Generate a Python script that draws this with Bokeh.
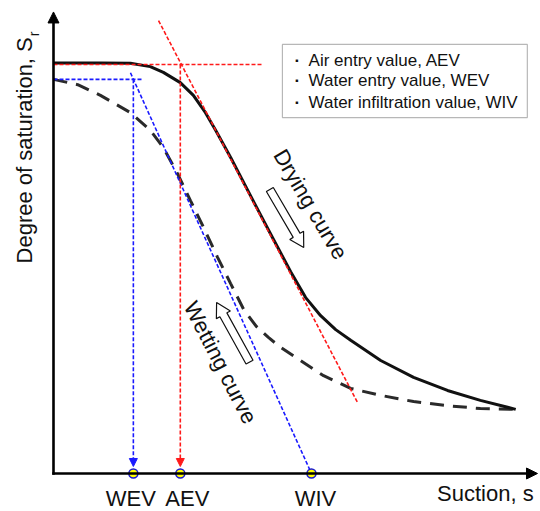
import numpy as np
from bokeh.plotting import figure
from bokeh.models import Range1d, Arrow, NormalHead, Label, BoxAnnotation
from bokeh.embed import file_html
from bokeh.resources import INLINE

# Suction s (as % of axis length) and degree of saturation Sr (%)
drying_s = [0.0, 9.7, 15.9, 20.0, 22.7, 26.2, 28.9, 31.4, 33.5, 36.6, 40.7,
            44.8, 49.0, 52.1, 55.2, 58.3, 61.4, 67.6, 74.4, 81.4, 88.2, 95.5]
drying_sr = [99.9, 99.9, 99.8, 99.0, 97.6, 95.1, 92.0, 87.8, 83.5, 76.9, 67.6,
             58.4, 49.1, 42.8, 38.4, 35.0, 32.4, 27.5, 23.4, 20.2, 17.8, 15.6]

wetting_s = [0.0, 5.0, 9.7, 15.9, 20.0, 22.7, 25.6, 28.3, 31.0, 33.9, 36.6,
             39.3, 41.9, 44.4, 46.9, 51.0, 55.8, 61.4, 67.6, 74.4, 81.4, 88.2,
             95.5]
wetting_sr = [95.9, 94.6, 92.0, 87.8, 83.5, 79.3, 73.0, 66.4, 59.9, 52.6, 46.2,
              39.9, 35.8, 33.1, 30.7, 27.5, 23.8, 20.7, 19.0, 17.5, 16.5, 15.8,
              15.6]

# characteristic suction values
key_names = ["WEV", "AEV", "WIV"]
key_s = [16.5, 26.2, 53.3]
WEV, AEV, WIV = key_s

SR_DRY_MAX = 99.5   # saturated plateau of the drying curve
SR_WET_MAX = 95.9   # maximum saturation on the wetting curve

# tangent construction lines
dry_tangent_s = [21.7, 62.8]
dry_tangent_sr = [110.2, 17.3]
wet_tangent_s = [15.9, WIV]
wet_tangent_sr = [97.5, 0.0]
dry_plateau_s = [0.0, 43.2]
wet_plateau_s = [0.0, 18.6]

legend_items = ["Air entry value, AEV", "Water entry value, WEV",
                "Water infiltration value, WIV"]

W, H = 540, 511
X_MIN, X_MAX = -10.95, 100.62
Y_MIN, Y_MAX = -9.25, 115.09
KX = W / (X_MAX - X_MIN)
KY = H / (Y_MAX - Y_MIN)

FONT = "Liberation Sans"
RED = "#ff1a1a"
BLUE = "#1a1aff"
INK = "#111111"

p = figure(width=W, height=H, output_backend="svg", toolbar_location=None,
           x_range=Range1d(X_MIN, X_MAX), y_range=Range1d(Y_MIN, Y_MAX),
           min_border=0, outline_line_color=None)
p.axis.visible = False
p.grid.visible = False
p.background_fill_color = "white"
p.border_fill_color = "white"

# soil-water characteristic curves
p.line(wetting_s, wetting_sr, line_color="#2a2a2a", line_width=3,
       line_dash="14 9")
p.line(drying_s, drying_sr, line_color=INK, line_width=3, line_join="round")

# construction lines
p.line(dry_plateau_s, [SR_DRY_MAX, SR_DRY_MAX], line_color=RED,
       line_width=1.6, line_dash="4 2")
p.line(dry_tangent_s, dry_tangent_sr, line_color=RED, line_width=1.6,
       line_dash="4 2")
p.line(wet_plateau_s, [SR_WET_MAX, SR_WET_MAX], line_color=BLUE,
       line_width=1.6, line_dash="4 2")
p.line(wet_tangent_s, wet_tangent_sr, line_color=BLUE, line_width=1.6,
       line_dash="4 2")

# drop lines to the suction axis
for xv, ytop, col in [(WEV, SR_WET_MAX, BLUE), (AEV, SR_DRY_MAX, RED)]:
    p.add_layout(Arrow(end=NormalHead(size=8, fill_color=col, line_color=col,
                                      line_width=1),
                       x_start=xv, y_start=ytop, x_end=xv, y_end=1.7,
                       line_color=col, line_width=1.6, line_dash="4 2"))

# axes with arrow heads
p.add_layout(Arrow(end=NormalHead(size=11, fill_color="black",
                                  line_color="black", line_width=1),
                   x_start=-0.25, y_start=0, x_end=100.0, y_end=0,
                   line_color="black", line_width=2.6))
p.add_layout(Arrow(end=NormalHead(size=11, fill_color="black",
                                  line_color="black", line_width=1),
                   x_start=0, y_start=-0.3, x_end=0, y_end=112.3,
                   line_color="black", line_width=2.6))

p.scatter(key_s, [0, 0, 0], size=9, fill_color="#ffff00",
          line_color="#1a1ad0", line_width=1.5)

# labels under the suction axis
label_shift = [-2.5, 7, 4]
for name, xv, dx in zip(key_names, key_s, label_shift):
    p.add_layout(Label(x=xv, y=-6.1, x_offset=dx, text=name,
                       text_align="center", text_baseline="middle",
                       text_font=FONT, text_font_size="22px",
                       text_color=INK))
p.add_layout(Label(x=99.2, y=-4.87, text="Suction, s", text_align="right",
                   text_baseline="middle", text_font=FONT,
                   text_font_size="22px", text_color=INK))

# vertical axis title with subscript
p.add_layout(Label(x=-5.99, y=51.1, text="Degree of saturation, S",
                   angle=90, angle_units="deg", text_align="left",
                   text_baseline="middle", text_font=FONT,
                   text_font_size="22px", text_color=INK))
p.add_layout(Label(x=-4.03, y=106.4, text="r", angle=90, angle_units="deg",
                   text_align="left", text_baseline="middle",
                   text_font=FONT, text_font_size="14px", text_color=INK))

# curve names
p.add_layout(Label(x=53.1, y=65.5, text="Drying curve", angle=-59.5,
                   angle_units="deg", text_align="center",
                   text_baseline="middle", text_font=FONT,
                   text_font_size="22px", text_color=INK))
p.add_layout(Label(x=34.5, y=27.0, text="Wetting curve", angle=-63,
                   angle_units="deg", text_align="center",
                   text_baseline="middle", text_font=FONT,
                   text_font_size="22px", text_color=INK))


def block_arrow(tail, tip, shaft=8.0, head_w=16.0, head_l=14.0):
    """Hollow block-arrow outline, built in screen pixels."""
    t = np.array([tail[0] * KX, tail[1] * KY])
    h = np.array([tip[0] * KX, tip[1] * KY])
    u = (h - t) / np.linalg.norm(h - t)
    n = np.array([-u[1], u[0]])
    neck = h - u * head_l
    pts = [t + n * shaft / 2, neck + n * shaft / 2, neck + n * head_w / 2, h,
           neck - n * head_w / 2, neck - n * shaft / 2, t - n * shaft / 2]
    return [q[0] / KX for q in pts], [q[1] / KY for q in pts]


for tail, tip in [((44.7, 69.1), (51.7, 55.0)), ((40.5, 27.1), (33.7, 41.6))]:
    xs, ys = block_arrow(tail, tip)
    p.patch(xs, ys, fill_color="white", line_color=INK, line_width=1.2)

# legend box
p.add_layout(BoxAnnotation(left=47.3, right=97.9, bottom=86.6, top=104.4,
                           fill_color="white", fill_alpha=1.0,
                           line_color=INK, line_width=1.2))
for item, yc in zip(legend_items, [100.5, 95.6, 90.3]):
    p.add_layout(Label(x=50.4, y=yc, text="·", text_align="center",
                       text_baseline="middle", text_font=FONT,
                       text_font_size="17px", text_font_style="bold",
                       text_color=INK))
    p.add_layout(Label(x=52.7, y=yc, text=item, text_align="left",
                       text_baseline="middle", text_font=FONT,
                       text_font_size="17px", text_color=INK))

open("out.html", "w").write(file_html(p, INLINE))
